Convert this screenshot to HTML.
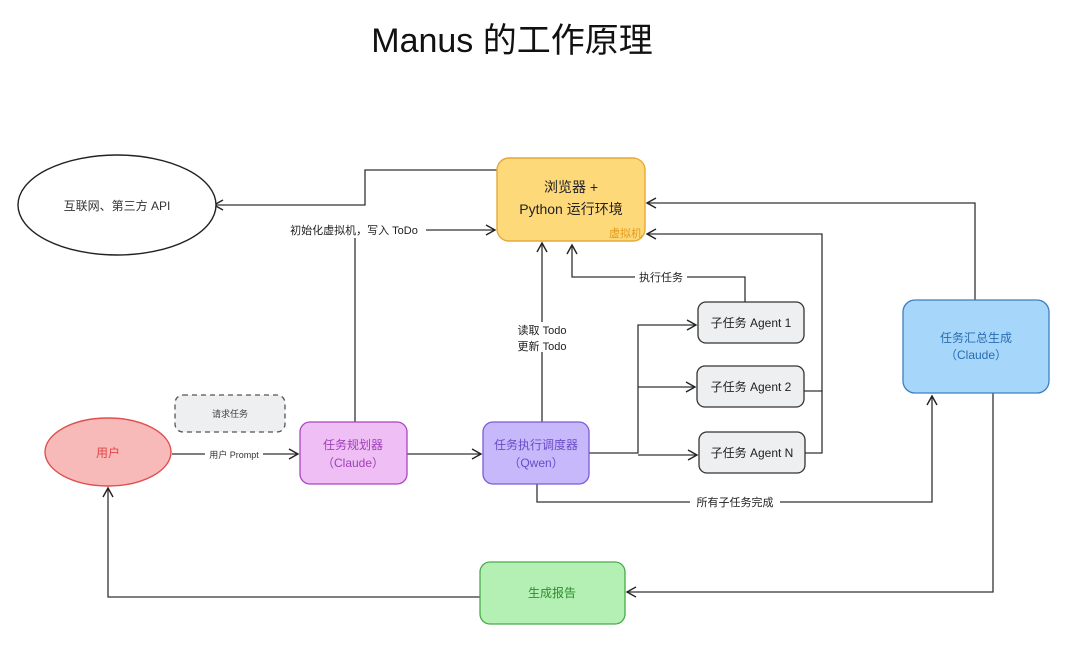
<!DOCTYPE html>
<html><head><meta charset="utf-8"><style>
body{margin:0;background:#fff;width:1080px;height:645px;overflow:hidden}
svg text{font-family:"Liberation Sans","Noto Sans CJK SC",sans-serif}
</style></head><body>
<svg width="1080" height="645" viewBox="0 0 1080 645" xmlns="http://www.w3.org/2000/svg">
<defs><marker id="a" markerWidth="12" markerHeight="12" refX="10" refY="6" orient="auto" markerUnits="userSpaceOnUse"><path d="M1,1 L10,6 L1,11" fill="none" stroke="#222" stroke-width="1.4"/></marker></defs>
<text x="512" y="52" font-size="34" text-anchor="middle" fill="#111">Manus 的工作原理</text>
<g fill="none" stroke="#333" stroke-width="1.3">
<path d="M497,170 H365 V205 H214" marker-end="url(#a)"/>
<path d="M355,422 V236"/>
<path d="M425,230 H495" marker-end="url(#a)"/>
<path d="M542,422 V243" marker-end="url(#a)"/>
<path d="M745,302 V277 H572 V245" marker-end="url(#a)"/>
<path d="M975,300 V203 H647" marker-end="url(#a)"/>
<path d="M804,391 H822 V234 H647" marker-end="url(#a)"/>
<path d="M805,453 H822 V390"/>
<path d="M589,453 H638 V325 H696" marker-end="url(#a)"/>
<path d="M638,387 H695" marker-end="url(#a)"/>
<path d="M638,455 H697" marker-end="url(#a)"/>
<path d="M172,454 H298" marker-end="url(#a)"/>
<path d="M407,454 H481" marker-end="url(#a)"/>
<path d="M537,484 V502 H932 V396" marker-end="url(#a)"/>
<path d="M993,393 V592 H627" marker-end="url(#a)"/>
<path d="M480,597 H108 V488" marker-end="url(#a)"/>
</g>
<ellipse cx="117" cy="205" rx="99" ry="50" fill="#fff" stroke="#222" stroke-width="1.4"/>
<text x="117" y="210" font-size="12" text-anchor="middle" fill="#333">互联网、第三方 API</text>
<rect x="497" y="158" width="148" height="83" rx="12" fill="#fdd97a" stroke="#e6a93a" stroke-width="1.4"/>
<text x="571" y="192" font-size="14" text-anchor="middle" fill="#222">浏览器 +</text>
<text x="571" y="214" font-size="14" text-anchor="middle" fill="#222">Python 运行环境</text>
<text x="642" y="237" font-size="11" text-anchor="end" fill="#e69a1a">虚拟机</text>
<rect x="268" y="222" width="158" height="16" fill="#fff"/>
<text x="354" y="234" font-size="11" text-anchor="middle" fill="#222">初始化虚拟机，写入 ToDo</text>
<rect x="515" y="322" width="54" height="30" fill="#fff"/>
<text x="542" y="334" font-size="11" text-anchor="middle" fill="#222">读取 Todo</text>
<text x="542" y="350" font-size="11" text-anchor="middle" fill="#222">更新 Todo</text>
<rect x="635" y="270" width="52" height="14" fill="#fff"/>
<text x="661" y="281" font-size="11" text-anchor="middle" fill="#222">执行任务</text>
<rect x="698" y="302" width="106" height="41" rx="8" fill="#eeeff0" stroke="#333" stroke-width="1.3"/>
<text x="751" y="327" font-size="12" text-anchor="middle" fill="#222">子任务 Agent 1</text>
<rect x="697" y="366" width="107" height="41" rx="8" fill="#eeeff0" stroke="#333" stroke-width="1.3"/>
<text x="751" y="391" font-size="12" text-anchor="middle" fill="#222">子任务 Agent 2</text>
<rect x="699" y="432" width="106" height="41" rx="8" fill="#eeeff0" stroke="#333" stroke-width="1.3"/>
<text x="752" y="457" font-size="12" text-anchor="middle" fill="#222">子任务 Agent N</text>
<rect x="903" y="300" width="146" height="93" rx="12" fill="#a6d7fb" stroke="#3b7fc0" stroke-width="1.3"/>
<text x="976" y="342" font-size="12" text-anchor="middle" fill="#2b6cb0">任务汇总生成</text>
<text x="976" y="359" font-size="12" text-anchor="middle" fill="#2b6cb0">（Claude）</text>
<rect x="175" y="395" width="110" height="37" rx="8" fill="#eeeff0" stroke="#555" stroke-width="1.3" stroke-dasharray="5,4"/>
<text x="230" y="417" font-size="9" text-anchor="middle" fill="#444">请求任务</text>
<ellipse cx="108" cy="452" rx="63" ry="34" fill="#f8b9b9" stroke="#e05050" stroke-width="1.4"/>
<text x="108" y="457" font-size="12" text-anchor="middle" fill="#e04848">用户</text>
<rect x="205" y="447" width="58" height="14" fill="#fff"/>
<text x="234" y="458" font-size="9" text-anchor="middle" fill="#333">用户 Prompt</text>
<rect x="300" y="422" width="107" height="62" rx="10" fill="#eebef5" stroke="#a846c0" stroke-width="1.3"/>
<text x="353" y="449" font-size="12" text-anchor="middle" fill="#a040b8">任务规划器</text>
<text x="353" y="467" font-size="12" text-anchor="middle" fill="#a040b8">（Claude）</text>
<rect x="483" y="422" width="106" height="62" rx="10" fill="#c7b8fb" stroke="#7b5ad6" stroke-width="1.3"/>
<text x="536" y="449" font-size="12" text-anchor="middle" fill="#6a4cc8">任务执行调度器</text>
<text x="536" y="467" font-size="12" text-anchor="middle" fill="#6a4cc8">（Qwen）</text>
<rect x="690" y="495" width="90" height="14" fill="#fff"/>
<text x="735" y="506" font-size="11" text-anchor="middle" fill="#222">所有子任务完成</text>
<rect x="480" y="562" width="145" height="62" rx="10" fill="#b4f0b4" stroke="#4aaa4a" stroke-width="1.3"/>
<text x="552" y="597" font-size="12" text-anchor="middle" fill="#2e8b2e">生成报告</text>
</svg>
</body></html>
